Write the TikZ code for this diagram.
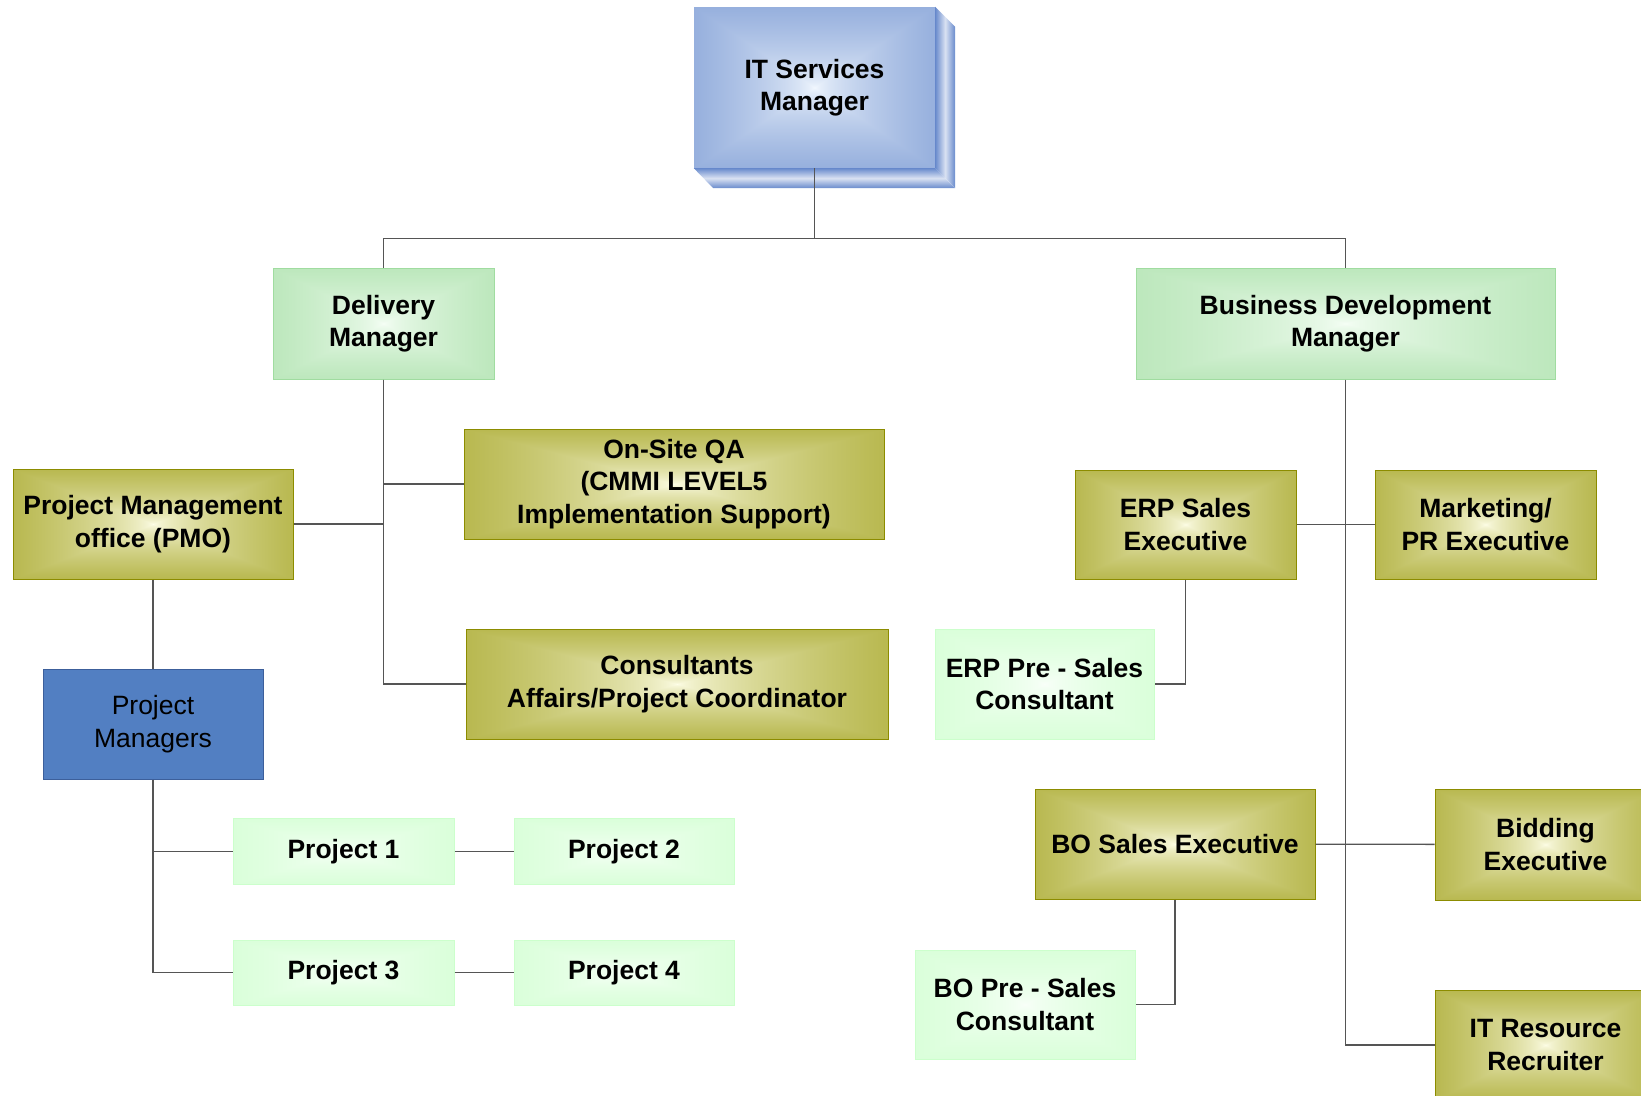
\documentclass[tikz,border=0pt]{standalone}
\usepackage{fontspec}
\setmainfont{Liberation Sans}
\usetikzlibrary{positioning}

\newcommand\boxshading[7]{\pgfdeclarefunctionalshading{#1}{\pgfpoint{-50bp}{-50bp}}{\pgfpoint{50bp}{50bp}}{}{abs exch abs 2 copy sub abs add add 100 div 0.6 exp dup dup #7 mul #4 add 3 1 roll #6 mul #3 add exch #5 mul #2 add 3 1 roll exch}}
\boxshading{oliveshade}{1}{1}{0.92}{-0.42}{-0.42}{-0.92}
\boxshading{greenshade}{0.97}{1}{0.97}{-0.35}{-0.14}{-0.35}
\boxshading{paleshade}{0.98}{1}{0.98}{-0.19}{0}{-0.19}
\boxshading{blueshade}{0.96}{0.98}{1}{-0.56}{-0.44}{-0.2}

\definecolor{oliveedge}{RGB}{140,140,0}
\definecolor{greenedge}{RGB}{160,220,160}
\definecolor{paleedge}{RGB}{204,255,204}
\definecolor{blueedge}{RGB}{104,138,204}
\definecolor{pmfill}{RGB}{82,127,194}
\definecolor{pmedge}{RGB}{60,95,155}
\definecolor{linegray}{RGB}{85,85,85}

\tikzstyle{box} = [rectangle, inner sep=0pt, align=center, font=\bfseries\fontsize{26.5}{32.4}\selectfont]
\tikzstyle{olive} = [box, shading=oliveshade, draw=oliveedge, line width=1pt]
\tikzstyle{green} = [box, shading=greenshade, draw=greenedge, line width=1pt]
\tikzstyle{pale} = [box, shading=paleshade, draw=paleedge, line width=1pt]
\tikzstyle{blue} = [box, shading=blueshade]
\tikzstyle{pmbox} = [box, fill=pmfill, draw=pmedge, line width=1pt, font=\mdseries\fontsize{26.5}{32.4}\selectfont]
\tikzstyle{conn} = [draw=linegray, line width=1.3pt]

\begin{document}
\begin{tikzpicture}[x=1pt, y=-1pt]
	\useasboundingbox (0,0) rectangle (1641,1095);
	\clip (0,0) rectangle (1641,1095);

	\node (it) [blue, minimum width=241pt, minimum height=161pt] at (814.5,87.5) {IT Services\\Manager};
	\shade [top color=blueedge, bottom color=blueedge, middle color=blueedge!25] (it.south west) -- (it.south east) -- ++(20,20) -- ++(-242,0) -- cycle;
	\shade [left color=blueedge, right color=blueedge, middle color=blueedge!25] (it.north east) -- ++(20,20) -- ++(0,161) -- (it.south east) -- cycle;

	\node (dm) [green, minimum width=221pt, minimum height=111pt] at (383.5,323.5) {Delivery\\Manager};
	\node (bdm) [green, minimum width=419pt, minimum height=111pt] at (1345.5,323.5) {Business Development\\Manager};

	\node (qa) [olive, minimum width=420pt, minimum height=110pt] at (674,484) {On-Site QA\\(CMMI LEVEL5\\Implementation Support)};
	\node (pmo) [olive, minimum width=280pt, minimum height=110pt] at (153,524) {Project Management\\office (PMO)};
	\node (ca) [olive, minimum width=422pt, minimum height=110pt] at (677,684) {Consultants\\Affairs/Project Coordinator};
	\node (pm) [pmbox, minimum width=220pt, minimum height=110pt] at (153,724) {Project\\Managers};

	\node (p1) [pale, minimum width=221pt, minimum height=66pt] at (343.5,851.5) {Project 1};
	\node (p2) [pale, minimum width=220pt, minimum height=66pt] at (624,851.5) {Project 2};
	\node (p3) [pale, minimum width=221pt, minimum height=65pt] at (343.5,972.5) {Project 3};
	\node (p4) [pale, minimum width=220pt, minimum height=65pt] at (624,972.5) {Project 4};

	\node (erp) [olive, minimum width=221pt, minimum height=109pt] at (1185.5,524.5) {ERP Sales\\Executive};
	\node (mkt) [olive, minimum width=221pt, minimum height=109pt] at (1485.5,524.5) {Marketing/\\PR Executive};
	\node (erppre) [pale, minimum width=219pt, minimum height=110pt] at (1044.5,684) {ERP Pre - Sales\\Consultant};
	\node (bo) [olive, minimum width=280pt, minimum height=110pt] at (1175,844) {BO Sales Executive};
	\node (bid) [olive, minimum width=221pt, minimum height=111pt] at (1545.5,844.5) {Bidding\\Executive};
	\node (bopre) [pale, minimum width=220pt, minimum height=109pt] at (1025,1004.5) {BO Pre - Sales\\Consultant};
	\node (itr) [olive, minimum width=221pt, minimum height=110pt] at (1545.5,1045) {IT Resource\\Recruiter};

	\draw [conn] (it.south) -- ++(0,70) -| (dm.north);
	\draw [conn] (it.south) -- ++(0,70) -| (bdm.north);
	\draw [conn] (dm.south) |- (qa.west);
	\draw [conn] (dm.south) |- (pmo.east);
	\draw [conn] (dm.south) |- (ca.west);
	\draw [conn] (pmo) -- (pm);
	\draw [conn] (pm.south) |- (p1.west);
	\draw [conn] (pm.south) |- (p3.west);
	\draw [conn] (p1) -- (p2);
	\draw [conn] (p3) -- (p4);
	\draw [conn] (bdm.south) |- (itr.west);
	\draw [conn] (erp) -- (mkt);
	\draw [conn] (bo) -- (bid);
	\draw [conn] (erp.south) |- (erppre.east);
	\draw [conn] (bo.south) |- (bopre.east);
\end{tikzpicture}
\end{document}
